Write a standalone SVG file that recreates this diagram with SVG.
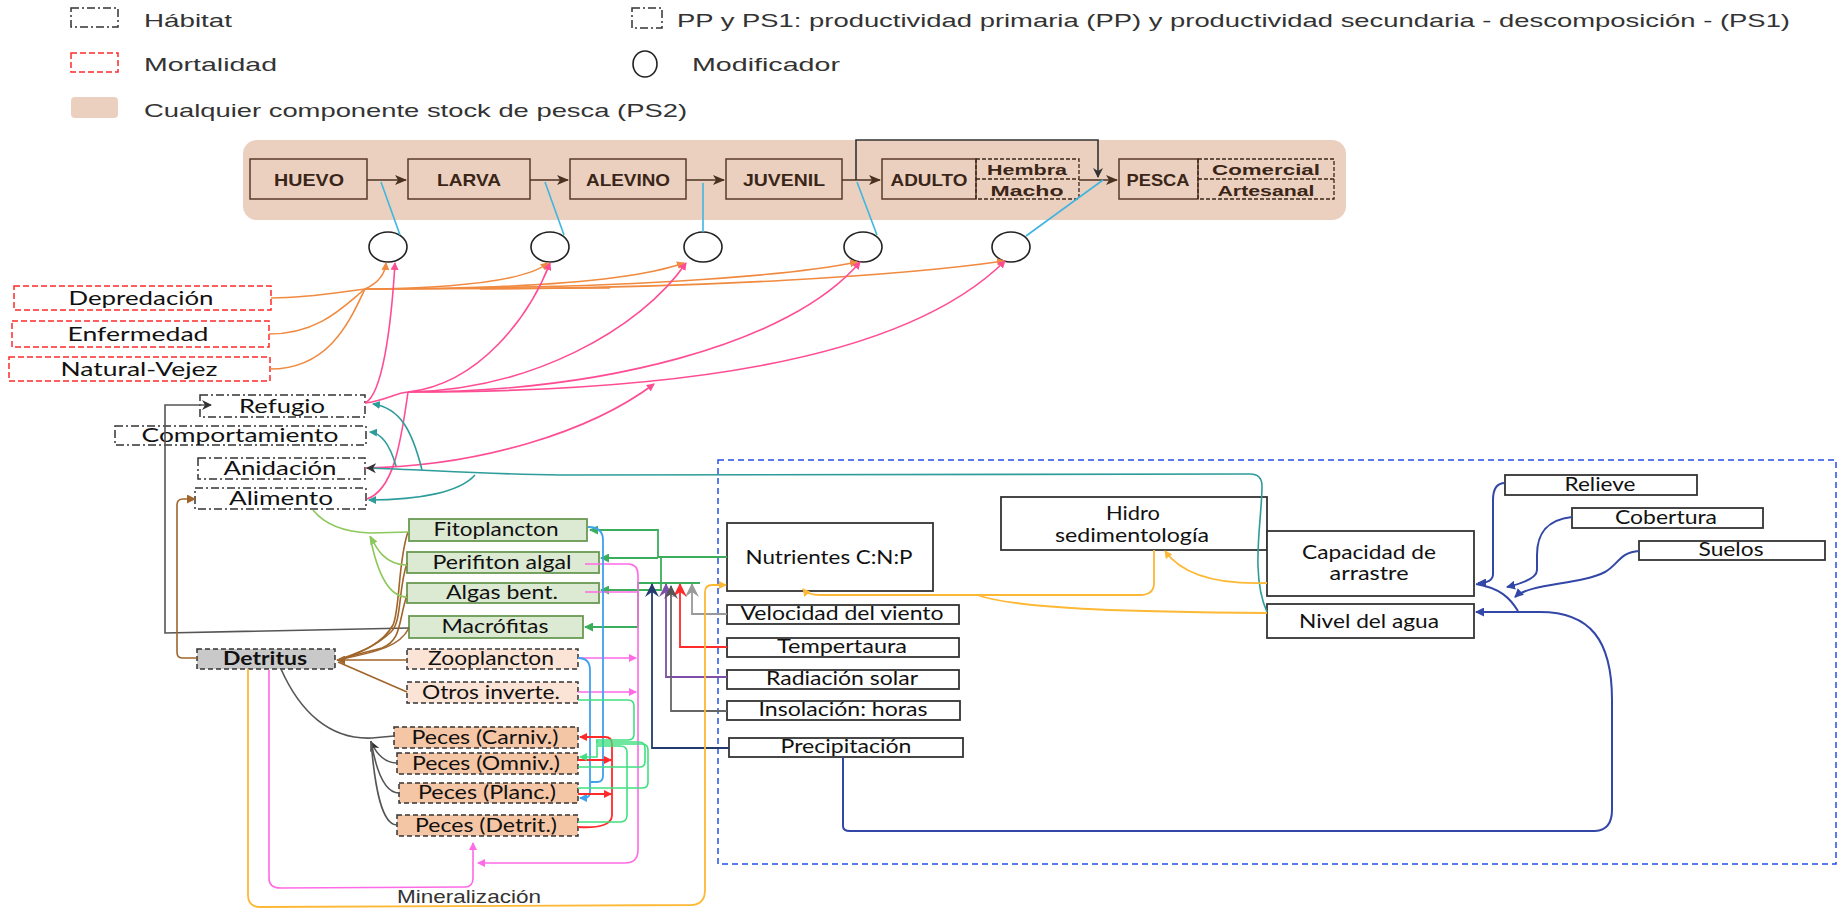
<svg xmlns="http://www.w3.org/2000/svg" width="1848" height="910" viewBox="0 0 1848 910">
<style>
.lg{font-family:"Liberation Sans",Arial,sans-serif;font-size:19px;fill:#333}
.st{font-family:"Liberation Sans",Arial,sans-serif;font-size:17px;font-weight:bold;fill:#3a2618;text-anchor:middle}
.sm{font-family:"Liberation Sans",Arial,sans-serif;font-size:15px;font-weight:bold;fill:#3a2618;text-anchor:middle}
.bx{font-family:Lato,"Liberation Sans",sans-serif;font-size:19px;fill:#111;text-anchor:middle}
.mort{fill:#fff;stroke:#ff2a2a;stroke-width:1.5;stroke-dasharray:6 3}
.hab{fill:#fff;stroke:#333;stroke-width:1.5;stroke-dasharray:8 3 2 3}
.pp{fill:#dcead3;stroke:#6a9a52;stroke-width:1.8}
.zoo{fill:#fbe4d5;stroke:#333;stroke-width:1.5;stroke-dasharray:5 3}
.fish{fill:#f5c6a5;stroke:#333;stroke-width:1.5;stroke-dasharray:5 3}
.det{fill:#c9c9c9;stroke:#333;stroke-width:1.5;stroke-dasharray:5 3}
.env{fill:#fff;stroke:#333;stroke-width:1.8}
.stage{fill:#ecd0bf;stroke:#5a3a28;stroke-width:1.5}
.stagd{fill:none;stroke:#3a2618;stroke-width:1.3;stroke-dasharray:4 2}
.mod{fill:#fff;stroke:#222;stroke-width:1.6}
#connectors path{fill:none}
.c-or{stroke:#f08a40;stroke-width:1.6}
.c-pk{stroke:#ff4d94;stroke-width:1.6}
.c-tl{stroke:#2e9c9a;stroke-width:1.6}
.c-br{stroke:#a0652a;stroke-width:1.6}
.c-lg{stroke:#8dc85b;stroke-width:1.6}
.c-gr{stroke:#3aae5a;stroke-width:1.8}
.c-cy{stroke:#3fb5e0;stroke-width:1.6}
.c-bn{stroke:#4a3222;stroke-width:1.6}
.c-bk{stroke:#555;stroke-width:1.6}
.c-yl{stroke:#fdb836;stroke-width:1.8}
.c-nv{stroke:#3347a6;stroke-width:2}
.c-mg{stroke:#ff6ae6;stroke-width:1.6}
.c-bl{stroke:#3fa2ee;stroke-width:1.8}
.c-rd{stroke:#ff2a2a;stroke-width:1.8}
.c-sg{stroke:#40e080;stroke-width:1.6}
</style>
<defs>
<marker id="a-bn" markerUnits="userSpaceOnUse" markerWidth="12" markerHeight="10" refX="11" refY="5" orient="auto"><path d="M0,0 L12,5 L0,10 L3,5 z" fill="#4a3222"/></marker>
<marker id="a-bk" markerUnits="userSpaceOnUse" markerWidth="10" markerHeight="10" refX="9" refY="5" orient="auto"><path d="M0,0 L10,5 L0,10 L3,5 z" fill="#333"/></marker>
<marker id="a-or" markerUnits="userSpaceOnUse" markerWidth="8" markerHeight="8" refX="7" refY="4" orient="auto"><path d="M0,0 L8,4 L0,8 z" fill="#f08a40"/></marker>
<marker id="a-pk" markerUnits="userSpaceOnUse" markerWidth="8" markerHeight="8" refX="7" refY="4" orient="auto"><path d="M0,0 L8,4 L0,8 z" fill="#ff4d94"/></marker>
<marker id="a-tl" markerUnits="userSpaceOnUse" markerWidth="8" markerHeight="8" refX="7" refY="4" orient="auto"><path d="M0,0 L8,4 L0,8 z" fill="#2e9c9a"/></marker>
<marker id="a-br" markerUnits="userSpaceOnUse" markerWidth="9" markerHeight="9" refX="8" refY="4.5" orient="auto"><path d="M0,0 L9,4.5 L0,9 z" fill="#a0652a"/></marker>
<marker id="a-lg" markerUnits="userSpaceOnUse" markerWidth="8" markerHeight="8" refX="7" refY="4" orient="auto"><path d="M0,0 L8,4 L0,8 z" fill="#8dc85b"/></marker>
<marker id="a-gr" markerUnits="userSpaceOnUse" markerWidth="9" markerHeight="9" refX="8" refY="4.5" orient="auto"><path d="M0,0 L9,4.5 L0,9 z" fill="#3aae5a"/></marker>
<marker id="a-yl" markerUnits="userSpaceOnUse" markerWidth="8" markerHeight="8" refX="7" refY="4" orient="auto"><path d="M0,0 L8,4 L0,8 z" fill="#fdb836"/></marker>
<marker id="a-nv" markerUnits="userSpaceOnUse" markerWidth="9" markerHeight="9" refX="8" refY="4.5" orient="auto"><path d="M0,0 L9,4.5 L0,9 z" fill="#3347a6"/></marker>
<marker id="a-mg" markerUnits="userSpaceOnUse" markerWidth="8" markerHeight="8" refX="7" refY="4" orient="auto"><path d="M0,0 L8,4 L0,8 z" fill="#ff6ae6"/></marker>
<marker id="a-bl" markerUnits="userSpaceOnUse" markerWidth="8" markerHeight="8" refX="7" refY="4" orient="auto"><path d="M0,0 L8,4 L0,8 z" fill="#3fa2ee"/></marker>
<marker id="a-rd" markerUnits="userSpaceOnUse" markerWidth="8" markerHeight="8" refX="7" refY="4" orient="auto"><path d="M0,0 L8,4 L0,8 z" fill="#ff2a2a"/></marker>
<marker id="a-sg" markerUnits="userSpaceOnUse" markerWidth="8" markerHeight="8" refX="7" refY="4" orient="auto"><path d="M0,0 L8,4 L0,8 z" fill="#40e080"/></marker>
<marker id="b-gy" markerUnits="userSpaceOnUse" markerWidth="14" markerHeight="14" refX="13" refY="7" orient="auto"><path d="M0,0 L14,7 L0,14 L5,7 z" fill="#999"/></marker>
<marker id="b-rd" markerUnits="userSpaceOnUse" markerWidth="14" markerHeight="14" refX="13" refY="7" orient="auto"><path d="M0,0 L14,7 L0,14 L5,7 z" fill="#ff2a2a"/></marker>
<marker id="b-pu" markerUnits="userSpaceOnUse" markerWidth="14" markerHeight="14" refX="13" refY="7" orient="auto"><path d="M0,0 L14,7 L0,14 L5,7 z" fill="#7d4fa8"/></marker>
<marker id="b-dg" markerUnits="userSpaceOnUse" markerWidth="14" markerHeight="14" refX="13" refY="7" orient="auto"><path d="M0,0 L14,7 L0,14 L5,7 z" fill="#555"/></marker>
<marker id="b-nv" markerUnits="userSpaceOnUse" markerWidth="14" markerHeight="14" refX="13" refY="7" orient="auto"><path d="M0,0 L14,7 L0,14 L5,7 z" fill="#233b6e"/></marker>
</defs>
<rect width="1848" height="910" fill="#fff"/>

<g id="legend">
<rect x="71" y="8" width="47" height="19" class="hab"/>
<text x="144" y="27" class="lg" textLength="88" lengthAdjust="spacingAndGlyphs">Hábitat</text>
<rect x="632" y="8" width="30" height="20" class="hab"/>
<text x="677" y="27" class="lg" textLength="1113" lengthAdjust="spacingAndGlyphs">PP y PS1: productividad primaria (PP) y productividad secundaria - descomposición - (PS1)</text>
<rect x="71" y="53" width="47" height="19" class="mort"/>
<text x="144" y="71" class="lg" textLength="133" lengthAdjust="spacingAndGlyphs">Mortalidad</text>
<ellipse cx="645" cy="64" rx="12" ry="13" class="mod"/>
<text x="692" y="71" class="lg" textLength="148" lengthAdjust="spacingAndGlyphs">Modificador</text>
<rect x="71" y="97" width="47" height="21" rx="4" fill="#ecd0bf"/>
<text x="144" y="117" class="lg" textLength="543" lengthAdjust="spacingAndGlyphs">Cualquier componente stock de pesca (PS2)</text>
</g>

<g id="stock">
<rect x="243" y="140" width="1103" height="80" rx="14" fill="#ecd0bf"/>
</g>
<g id="huevo"><rect x="250" y="159" width="117" height="40" class="stage"/><text x="309" y="186" class="st" textLength="70" lengthAdjust="spacingAndGlyphs">HUEVO</text></g>
<g id="larva"><rect x="408" y="159" width="122" height="40" class="stage"/><text x="469" y="186" class="st" textLength="64" lengthAdjust="spacingAndGlyphs">LARVA</text></g>
<g id="alevino"><rect x="570" y="159" width="116" height="40" class="stage"/><text x="628" y="186" class="st" textLength="84" lengthAdjust="spacingAndGlyphs">ALEVINO</text></g>
<g id="juvenil"><rect x="726" y="159" width="116" height="40" class="stage"/><text x="784" y="186" class="st" textLength="82" lengthAdjust="spacingAndGlyphs">JUVENIL</text></g>
<g id="adulto"><rect x="882" y="159" width="94" height="40" class="stage"/><text x="929" y="186" class="st" textLength="77" lengthAdjust="spacingAndGlyphs">ADULTO</text>
<rect x="976" y="159" width="103" height="40" class="stagd"/><line x1="976" y1="179" x2="1079" y2="179" class="stagd"/>
<text x="1027" y="175" class="sm" textLength="80" lengthAdjust="spacingAndGlyphs">Hembra</text>
<text x="1027" y="196" class="sm" textLength="73" lengthAdjust="spacingAndGlyphs">Macho</text></g>
<g id="pesca"><rect x="1119" y="159" width="79" height="40" class="stage"/><text x="1158" y="186" class="st" textLength="63" lengthAdjust="spacingAndGlyphs">PESCA</text>
<rect x="1198" y="159" width="136" height="40" class="stagd"/><line x1="1198" y1="179" x2="1334" y2="179" class="stagd"/>
<text x="1266" y="175" class="sm" textLength="108" lengthAdjust="spacingAndGlyphs">Comercial</text>
<text x="1266" y="196" class="sm" textLength="97" lengthAdjust="spacingAndGlyphs">Artesanal</text></g>

<g id="mod1"><ellipse cx="388" cy="247" rx="19" ry="15" class="mod"/></g>
<g id="mod2"><ellipse cx="550" cy="247" rx="19" ry="15" class="mod"/></g>
<g id="mod3"><ellipse cx="703" cy="247" rx="19" ry="15" class="mod"/></g>
<g id="mod4"><ellipse cx="863" cy="247" rx="19" ry="15" class="mod"/></g>
<g id="mod5"><ellipse cx="1011" cy="247" rx="19" ry="15" class="mod"/></g>

<g id="depredacion"><rect x="14" y="286" width="257" height="24" class="mort"/><text x="141" y="305" class="bx" textLength="145" lengthAdjust="spacingAndGlyphs">Depredación</text></g>
<g id="enfermedad"><rect x="12" y="321" width="257" height="26" class="mort"/><text x="138" y="341" class="bx" textLength="141" lengthAdjust="spacingAndGlyphs">Enfermedad</text></g>
<g id="natural-vejez"><rect x="9" y="357" width="261" height="24" class="mort"/><text x="139" y="376" class="bx" textLength="157" lengthAdjust="spacingAndGlyphs">Natural-Vejez</text></g>

<g id="refugio"><rect x="200" y="395" width="165" height="22" class="hab"/><text x="282" y="413" class="bx" textLength="86" lengthAdjust="spacingAndGlyphs">Refugio</text></g>
<g id="comportamiento"><rect x="115" y="426" width="251" height="19" class="hab"/><text x="240" y="442" class="bx" textLength="197" lengthAdjust="spacingAndGlyphs">Comportamiento</text></g>
<g id="anidacion"><rect x="198" y="458" width="167" height="21" class="hab"/><text x="280" y="475" class="bx" textLength="113" lengthAdjust="spacingAndGlyphs">Anidación</text></g>
<g id="alimento"><rect x="195" y="488" width="171" height="21" class="hab"/><text x="281" y="505" class="bx" textLength="104" lengthAdjust="spacingAndGlyphs">Alimento</text></g>

<g id="fitoplancton"><rect x="409" y="519" width="178" height="22" class="pp"/><text x="496" y="536" class="bx" textLength="125" lengthAdjust="spacingAndGlyphs">Fitoplancton</text></g>
<g id="perifiton"><rect x="407" y="552" width="192" height="21" class="pp"/><text x="502" y="569" class="bx" textLength="139" lengthAdjust="spacingAndGlyphs">Perifiton algal</text></g>
<g id="algas"><rect x="407" y="583" width="192" height="20" class="pp"/><text x="502" y="599" class="bx" textLength="112" lengthAdjust="spacingAndGlyphs">Algas bent.</text></g>
<g id="macrofitas"><rect x="409" y="616" width="174" height="22" class="pp"/><text x="495" y="633" class="bx" textLength="107" lengthAdjust="spacingAndGlyphs">Macrófitas</text></g>
<g id="detritus"><rect x="197" y="649" width="138" height="20" class="det"/><text x="265" y="665" class="bx" font-weight="bold" textLength="84" lengthAdjust="spacingAndGlyphs">Detritus</text></g>
<g id="zooplancton"><rect x="407" y="649" width="171" height="20" class="zoo"/><text x="491" y="665" class="bx" textLength="126" lengthAdjust="spacingAndGlyphs">Zooplancton</text></g>
<g id="otros"><rect x="407" y="682" width="171" height="21" class="zoo"/><text x="491" y="699" class="bx" textLength="138" lengthAdjust="spacingAndGlyphs">Otros inverte.</text></g>
<g id="peces-carniv"><rect x="394" y="727" width="184" height="21" class="fish"/><text x="485" y="744" class="bx" textLength="147" lengthAdjust="spacingAndGlyphs">Peces (Carniv.)</text></g>
<g id="peces-omniv"><rect x="397" y="753" width="181" height="21" class="fish"/><text x="486" y="770" class="bx" textLength="148" lengthAdjust="spacingAndGlyphs">Peces (Omniv.)</text></g>
<g id="peces-planc"><rect x="399" y="783" width="179" height="20" class="fish"/><text x="487" y="799" class="bx" textLength="138" lengthAdjust="spacingAndGlyphs">Peces (Planc.)</text></g>
<g id="peces-detrit"><rect x="397" y="815" width="181" height="21" class="fish"/><text x="486" y="832" class="bx" textLength="142" lengthAdjust="spacingAndGlyphs">Peces (Detrit.)</text></g>
<g id="mineralizacion"><text x="397" y="903" class="lg" font-size="17" textLength="144" lengthAdjust="spacingAndGlyphs">Mineralización</text></g>

<g id="entorno"><rect x="718" y="460" width="1118" height="404" fill="none" stroke="#2450e8" stroke-width="1.5" stroke-dasharray="6 4"/></g>
<g id="nutrientes"><rect x="727" y="523" width="206" height="68" class="env"/><text x="829" y="564" class="bx" textLength="167" lengthAdjust="spacingAndGlyphs">Nutrientes C:N:P</text></g>
<g id="velocidad"><rect x="727" y="605" width="232" height="19" class="env"/><text x="842" y="620" class="bx" textLength="203" lengthAdjust="spacingAndGlyphs">Velocidad del viento</text></g>
<g id="temperatura"><rect x="727" y="638" width="232" height="19" class="env"/><text x="842" y="653" class="bx" textLength="130" lengthAdjust="spacingAndGlyphs">Tempertaura</text></g>
<g id="radiacion"><rect x="727" y="670" width="232" height="19" class="env"/><text x="842" y="685" class="bx" textLength="152" lengthAdjust="spacingAndGlyphs">Radiación solar</text></g>
<g id="insolacion"><rect x="727" y="701" width="233" height="19" class="env"/><text x="843" y="716" class="bx" textLength="169" lengthAdjust="spacingAndGlyphs">Insolación: horas</text></g>
<g id="precipitacion"><rect x="729" y="738" width="234" height="19" class="env"/><text x="846" y="753" class="bx" textLength="131" lengthAdjust="spacingAndGlyphs">Precipitación</text></g>
<g id="hidro"><rect x="1001" y="497" width="266" height="53" class="env"/><text x="1133" y="520" class="bx" textLength="54" lengthAdjust="spacingAndGlyphs">Hidro</text><text x="1132" y="542" class="bx" textLength="154" lengthAdjust="spacingAndGlyphs">sedimentología</text></g>
<g id="capacidad"><rect x="1267" y="531" width="207" height="65" class="env"/><text x="1369" y="559" class="bx" textLength="134" lengthAdjust="spacingAndGlyphs">Capacidad de</text><text x="1369" y="580" class="bx" textLength="79" lengthAdjust="spacingAndGlyphs">arrastre</text></g>
<g id="nivel"><rect x="1267" y="604" width="207" height="34" class="env"/><text x="1369" y="628" class="bx" textLength="140" lengthAdjust="spacingAndGlyphs">Nivel del agua</text></g>
<g id="relieve"><rect x="1505" y="475" width="192" height="20" class="env"/><text x="1600" y="491" class="bx" textLength="71" lengthAdjust="spacingAndGlyphs">Relieve</text></g>
<g id="cobertura"><rect x="1572" y="508" width="191" height="20" class="env"/><text x="1666" y="524" class="bx" textLength="102" lengthAdjust="spacingAndGlyphs">Cobertura</text></g>
<g id="suelos"><rect x="1639" y="541" width="186" height="19" class="env"/><text x="1731" y="556" class="bx" textLength="65" lengthAdjust="spacingAndGlyphs">Suelos</text></g>

<g id="connectors">
<path class="c-bn" d="M367,180 H406" marker-end="url(#a-bn)"/>
<path class="c-bn" d="M530,180 H568" marker-end="url(#a-bn)"/>
<path class="c-bn" d="M686,180 H724" stroke="#222" marker-end="url(#a-bn)"/>
<path class="c-bn" d="M842,180 H880" marker-end="url(#a-bn)"/>
<path class="c-bn" d="M1079,180 H1117" marker-end="url(#a-bn)"/>
<path d="M856,180 V140 H1098 V177" stroke="#333" stroke-width="1.6" marker-end="url(#a-bk)"/>
<path class="c-cy" d="M400,235 L381,182"/>
<path class="c-cy" d="M564,235 L545,182"/>
<path class="c-cy" d="M703,232 L703,183"/>
<path class="c-cy" d="M877,235 L857,182"/>
<path class="c-cy" d="M1026,236 L1103,180"/>
<path class="c-or" d="M271,298 C310,298 340,292 365,289"/>
<path class="c-or" d="M269,334 C320,334 345,305 365,289"/>
<path class="c-or" d="M270,369 C330,369 350,320 365,289"/>
<path class="c-or" d="M365,289 C378,283 385,275 386,263" marker-end="url(#a-or)"/>
<path class="c-or" d="M365,289 C450,288 525,282 548,263" marker-end="url(#a-or)"/>
<path class="c-or" stroke-width="3" d="M365,289 L610,288"/>
<path class="c-or" d="M365,289 C520,289 630,282 684,263" marker-end="url(#a-or)"/>
<path class="c-or" d="M470,288 C640,286 790,276 857,262" marker-end="url(#a-or)"/>
<path class="c-or" d="M480,289 C700,288 900,276 1004,261" marker-end="url(#a-or)"/>
<path class="c-pk" d="M365,403 C382,395 391,330 395,263" marker-end="url(#a-pk)"/>
<path class="c-pk" d="M365,403 C385,401 395,393 408,392"/>
<path class="c-pk" d="M367,499 C392,490 400,450 408,392"/>
<path class="c-pk" d="M408,392 C480,384 530,315 550,263" marker-end="url(#a-pk)"/>
<path class="c-pk" d="M408,392 C530,390 640,330 686,263" marker-end="url(#a-pk)"/>
<path class="c-pk" d="M408,392 C600,392 790,345 860,262" marker-end="url(#a-pk)"/>
<path class="c-pk" d="M408,392 C660,392 900,365 1005,261" marker-end="url(#a-pk)"/>
<path class="c-pk" d="M365,468 C480,466 590,432 654,384" marker-end="url(#a-pk)"/>
<path class="c-tl" d="M1267,612 C1250,575 1262,520 1262,486 Q1262,474 1250,474 L560,475 C480,474 430,470 367,468" marker-end="url(#a-bk)"/>
<path class="c-tl" d="M422,470 C412,430 400,408 373,404" marker-end="url(#a-tl)"/>
<path class="c-tl" d="M396,466 C390,445 382,433 370,432" marker-end="url(#a-tl)"/>
<path class="c-tl" d="M475,475 C460,492 420,500 369,500" marker-end="url(#a-tl)"/>
<path class="c-bk" d="M409,628 L165,633 V405 H211" marker-end="url(#a-bk)"/>
<path class="c-br" d="M197,658 H182 Q177,658 177,652 V505 Q177,499 183,499 H195" marker-end="url(#a-br)"/>
<path class="c-br" d="M408,532 C398,560 400,610 393,625 C382,645 360,652 338,660"/>
<path class="c-br" d="M407,563 C398,590 402,622 391,632 C376,646 356,655 338,660"/>
<path class="c-br" d="M407,595 C398,622 402,640 382,648 C366,652 350,656 338,660"/>
<path class="c-br" d="M409,628 C400,646 380,651 338,660"/>
<path class="c-br" d="M407,692 L338,662"/>
<path class="c-br" d="M407,660 L337,660" marker-end="url(#a-br)"/>
<path class="c-lg" d="M313,510 C325,525 345,532 370,533 L409,532"/>
<path class="c-lg" d="M407,565 C385,565 376,548 371,537" marker-end="url(#a-lg)"/>
<path class="c-lg" d="M407,597 C385,597 375,562 370,536"/>
<path class="c-bk" stroke="#444" d="M281,669 C300,712 330,740 372,738 L394,736"/>
<path class="c-bk" stroke="#333" d="M397,763 C385,763 377,755 371,742" marker-end="url(#a-bk)"/>
<path class="c-bk" stroke="#333" d="M399,793 C385,793 376,770 371,741"/>
<path class="c-bk" stroke="#333" d="M397,825 C382,825 375,790 371,741"/>
<path class="c-gr" d="M727,557 H658 V530 H590" marker-end="url(#a-gr)"/>
<path class="c-gr" d="M658,558 H601" marker-end="url(#a-gr)"/>
<path class="c-gr" d="M661,558 V590 H601" marker-end="url(#a-gr)"/>
<path class="c-gr" d="M700,583 H638 V627 H585" marker-end="url(#a-gr)"/>
<path d="M727,614 H692 V584" stroke="#999" stroke-width="1.8" marker-end="url(#b-gy)"/>
<path d="M727,647 H680 V584" stroke="#ff2a2a" stroke-width="1.8" marker-end="url(#b-rd)"/>
<path d="M727,677 H666 V584" stroke="#7d4fa8" stroke-width="1.8" marker-end="url(#b-pu)"/>
<path d="M727,711 H671 V586" stroke="#666" stroke-width="1.8" marker-end="url(#b-dg)"/>
<path d="M729,748 H652 V584" stroke="#233b6e" stroke-width="1.8" marker-end="url(#b-nv)"/>
<path class="c-yl" d="M248,669 V895 Q248,907 260,907 L692,905 Q705,904 705,890 V592 Q705,585 712,585 H726" marker-end="url(#a-yl)"/>
<path class="c-yl" d="M1154,550 V583 Q1154,595 1140,595 H820 Q808,595 803,589" marker-end="url(#a-yl)"/>
<path class="c-yl" d="M1267,613 C1150,612 1020,610 977,595"/>
<path class="c-yl" d="M1267,583 C1210,585 1180,572 1165,551" marker-end="url(#a-yl)"/>
<path class="c-nv" d="M1505,483 C1496,483 1493,490 1493,500 V574 Q1493,583 1478,583" marker-end="url(#a-nv)"/>
<path class="c-nv" d="M1572,517 C1545,520 1537,535 1537,555 V570 Q1537,580 1507,587" marker-end="url(#a-nv)"/>
<path class="c-nv" d="M1639,551 C1620,552 1618,565 1605,572 C1580,585 1530,583 1515,597" marker-end="url(#a-nv)"/>
<path class="c-nv" d="M1476,584 C1500,588 1510,598 1518,611"/>
<path class="c-nv" d="M843,757 V826 Q843,831 850,831 L1595,831 Q1612,830 1612,810 V700 C1612,640 1590,612 1540,612 L1476,612" marker-end="url(#a-nv)"/>
<path class="c-mg" d="M585,564 H628 Q638,564 638,575 V850 Q638,863 625,863 L478,863" marker-end="url(#a-mg)"/>
<path class="c-mg" d="M585,592 H638"/>
<path class="c-mg" d="M578,658 H636" marker-end="url(#a-mg)"/>
<path class="c-mg" d="M578,692 H636" marker-end="url(#a-mg)"/>
<path class="c-mg" d="M269,670 V878 Q269,888 280,888 L465,887 Q473,887 473,878 V843" marker-end="url(#a-mg)"/>
<path class="c-bl" d="M588,527 Q603,527 603,540 V776 Q603,782 597,782 H590"/>
<path class="c-bl" d="M578,658 Q590,658 590,670 V792 Q590,798 584,798 H580" marker-end="url(#a-bl)"/>
<path class="c-rd" d="M578,760 H611" marker-end="url(#a-rd)"/>
<path class="c-rd" d="M578,794 H611" marker-end="url(#a-rd)"/>
<path class="c-rd" d="M578,827 Q612,829 612,815 V744 Q612,737 605,737 H580" marker-end="url(#a-rd)"/>
<path class="c-sg" d="M578,700 H628 Q634,700 634,706 V734 Q634,740 628,740 H596"/>
<path class="c-sg" d="M578,767 H640 Q645,767 645,761 V748 Q645,742 639,742 H596"/>
<path class="c-sg" d="M578,788 H643 Q648,788 648,782 V750 Q648,744 642,744 H598"/>
<path class="c-sg" d="M578,822 H620 Q627,822 627,815 V752 Q627,746 620,746 H598"/>
<path class="c-sg" d="M597,740 V757 H580" marker-end="url(#a-sg)"/>
</g>
</svg>
